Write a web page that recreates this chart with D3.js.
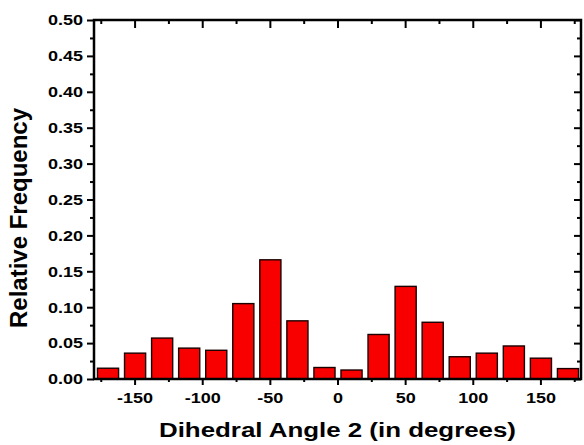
<!DOCTYPE html>
<html><head><meta charset="utf-8">
<script src="https://cdn.jsdelivr.net/npm/d3@7"></script>
<style>body{margin:0;background:#fff;}svg{display:block;}</style>
</head><body>
<script>
// Bin lower edges (degrees), bin width 20
const binStarts = [-180,-160,-140,-120,-100,-80,-60,-40,-20,0,20,40,60,80,100,120,140,160];
const frequencies = [0.015,0.036,0.057,0.043,0.040,0.105,0.166,0.081,0.016,0.0125,0.062,0.129,0.079,0.031,0.036,0.046,0.029,0.0145];
const xTicks = [-150,-100,-50,0,50,100,150];
const xMinor = [-175,-125,-75,-25,25,75,125,175];
const yTicks = [0,0.05,0.10,0.15,0.20,0.25,0.30,0.35,0.40,0.45,0.50];
const yMinor = [0.025,0.075,0.125,0.175,0.225,0.275,0.325,0.375,0.425,0.475];
const binWidth = 20;

const W=584,H=445;
const m={l:94,r:581,t:20,b:379};
const svg=d3.select("body").append("svg").attr("width",W).attr("height",H);
const x=d3.scaleLinear().domain([-180,180]).range([m.l,m.r]);
const y=d3.scaleLinear().domain([0,0.5]).range([m.b,m.t]);
const font="Liberation Sans, Arial, sans-serif";

// bars
const pad=(x(binWidth)-x(0))*0.11;
svg.append("g").selectAll("rect").data(binStarts).join("rect")
  .attr("x",(d)=>x(d)+pad+0.5)
  .attr("width",(d)=>x(d+binWidth)-x(d)-2*pad)
  .attr("y",(d,i)=>y(frequencies[i]))
  .attr("height",(d,i)=>y(0)-y(frequencies[i]))
  .attr("fill","#f80000").attr("stroke","#1a0000").attr("stroke-width",1.4);

function styleAxis(g){
  g.select(".domain").remove();
  g.selectAll("line").attr("stroke","#000").attr("stroke-width",2);
}
// bottom axis
const gx=svg.append("g").attr("transform",`translate(0,${m.b})`)
  .call(d3.axisBottom(x).tickValues(xTicks).tickSize(6).tickPadding(7).tickFormat(d=>String(d)));
styleAxis(gx);
gx.selectAll("text").attr("font-family",font).attr("font-weight","bold").attr("font-size",15).attr("fill","#000");
svg.append("g").attr("transform",`translate(0,${m.b})`)
  .call(d3.axisBottom(x).tickValues(xMinor).tickSize(3).tickFormat("")).call(styleAxis);
// top axis (inward)
svg.append("g").attr("transform",`translate(0,${m.t})`)
  .call(d3.axisBottom(x).tickValues(xTicks).tickSize(8).tickFormat("")).call(styleAxis);
svg.append("g").attr("transform",`translate(0,${m.t})`)
  .call(d3.axisBottom(x).tickValues(xMinor).tickSize(4).tickFormat("")).call(styleAxis);
// left axis
const gy=svg.append("g").attr("transform",`translate(${m.l},0)`)
  .call(d3.axisLeft(y).tickValues(yTicks).tickSize(7).tickPadding(4).tickFormat(d=>d.toFixed(2)));
styleAxis(gy);
gy.selectAll("text").attr("font-family",font).attr("font-weight","bold").attr("font-size",15).attr("fill","#000");
svg.append("g").attr("transform",`translate(${m.l},0)`)
  .call(d3.axisLeft(y).tickValues(yMinor).tickSize(4).tickFormat("")).call(styleAxis);
// right axis (inward)
svg.append("g").attr("transform",`translate(${m.r},0)`)
  .call(d3.axisLeft(y).tickValues(yTicks).tickSize(7).tickFormat("")).call(styleAxis);
svg.append("g").attr("transform",`translate(${m.r},0)`)
  .call(d3.axisLeft(y).tickValues(yMinor).tickSize(4).tickFormat("")).call(styleAxis);

// widen tick labels
svg.selectAll(".tick text").each(function(){
  const l=this.getComputedTextLength();
  if(l>0) d3.select(this).attr("textLength",l*1.2).attr("lengthAdjust","spacingAndGlyphs");
});

// frame
svg.append("rect").attr("x",m.l).attr("y",m.t).attr("width",m.r-m.l).attr("height",m.b-m.t)
  .attr("fill","none").attr("stroke","#000").attr("stroke-width",2.5);

// titles
svg.append("text").attr("x",(m.l+m.r)/2).attr("y",437).attr("text-anchor","middle")
  .attr("font-family",font).attr("font-weight","bold").attr("font-size",20)
  .attr("textLength",357).attr("lengthAdjust","spacingAndGlyphs")
  .text("Dihedral Angle 2 (in degrees)");
svg.append("text").attr("transform","translate(27,218) rotate(-90)").attr("text-anchor","middle")
  .attr("font-family",font).attr("font-weight","bold").attr("font-size",23)
  .attr("textLength",220).attr("lengthAdjust","spacingAndGlyphs")
  .text("Relative Frequency");
</script>
</body></html>
